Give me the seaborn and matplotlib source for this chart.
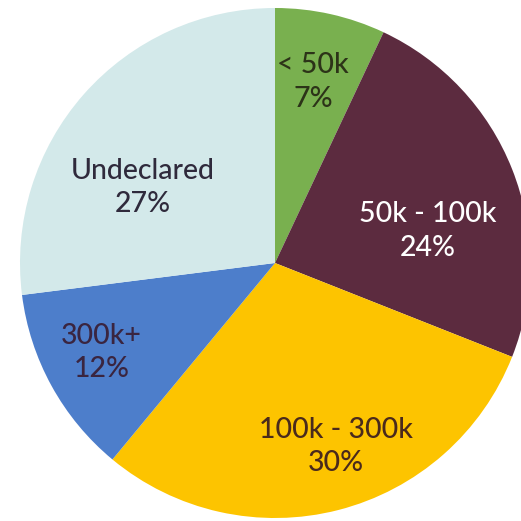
import matplotlib
matplotlib.use("Agg")
import matplotlib.pyplot as plt
import seaborn as sns

sns.set_theme(style="white")
plt.rcParams["font.family"] = ["Lato", "DejaVu Sans"]

# Income bands and their shares (%)
categories = ["< 50k", "50k - 100k", "100k - 300k", "300k+", "Undeclared"]
shares = [7, 24, 30, 12, 27]

colors = ["#79b04f", "#5c2b3f", "#fdc400", "#4d7ecb", "#d3e9ea"]
text_colors = ["#2c3318", "#ffffff", "#4a2a1c", "#3a2540", "#2f2a3c"]
# label centres in axes data units (pie radius = 1)
label_xy = [(0.15, 0.71), (0.60, 0.125), (0.24, -0.72), (-0.68, -0.35), (-0.52, 0.295)]

fig = plt.figure(figsize=(5.21, 5.21), dpi=100)
ax = fig.add_axes([0, 0, 1, 1])
ax.pie(shares, colors=colors, startangle=90, counterclock=False,
       radius=1.0, wedgeprops=dict(linewidth=0))

for name, val, (x, y), tc in zip(categories, shares, label_xy, text_colors):
    ax.text(x, y, f"{name}\n{val}%", ha="center", va="center",
            fontsize=20.5, color=tc, linespacing=1.35, fontweight="medium")

ax.set_xlim(-275 / 255, (521 - 275) / 255)
ax.set_ylim(-(521 - 263) / 255, 263 / 255)
ax.set_aspect("equal", adjustable="datalim")
ax.axis("off")

fig.savefig("out.png", dpi=100, facecolor="white")
